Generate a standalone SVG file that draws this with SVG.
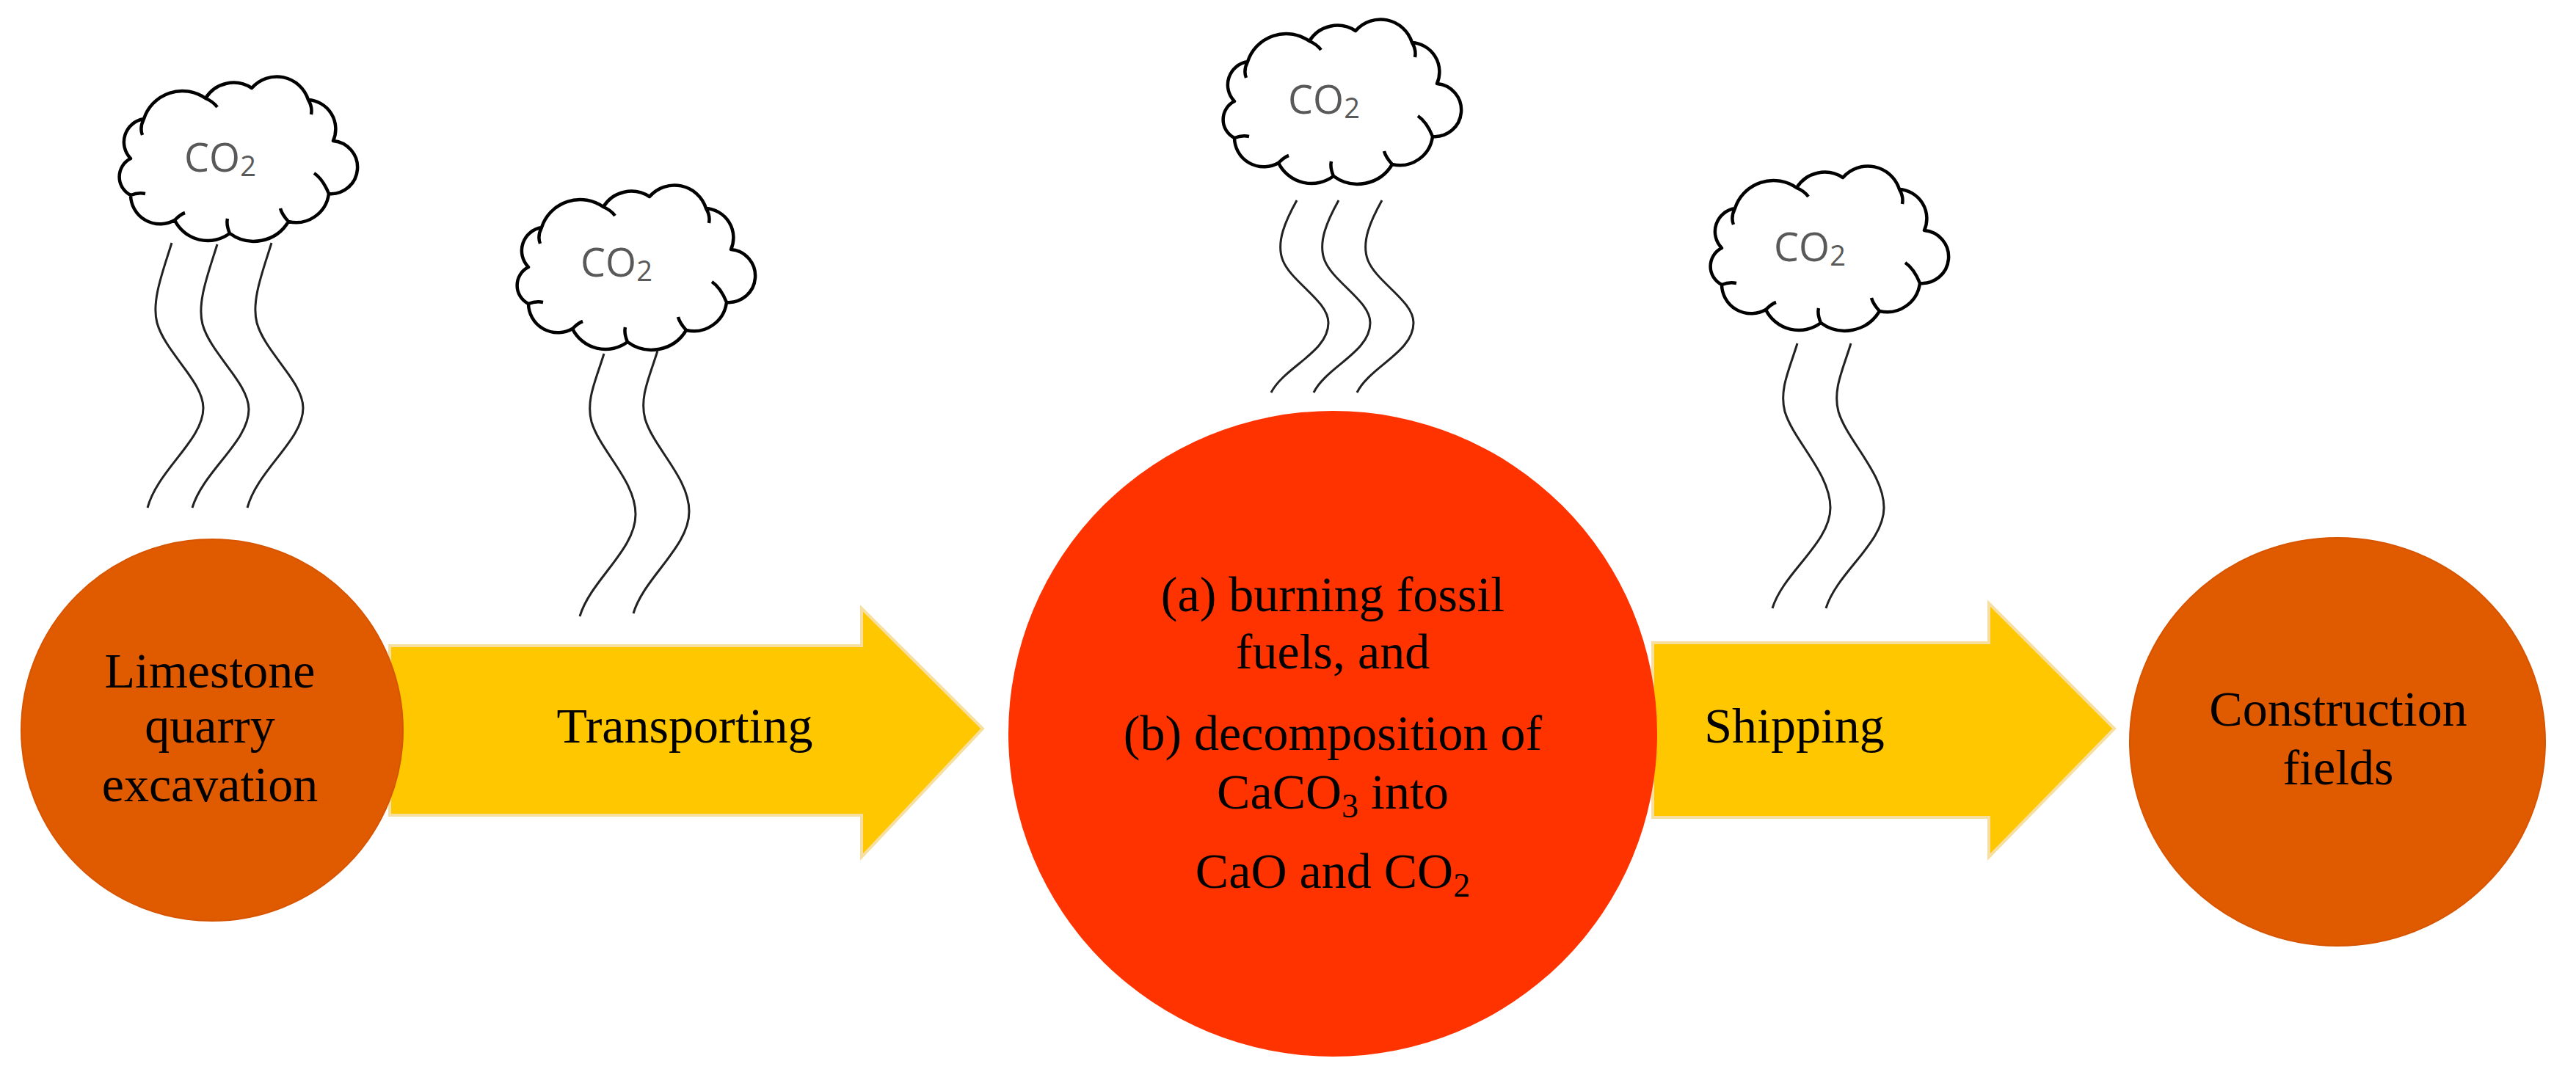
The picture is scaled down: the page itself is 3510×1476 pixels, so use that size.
<svg xmlns="http://www.w3.org/2000/svg" xmlns:xlink="http://www.w3.org/1999/xlink" width="3510" height="1476" viewBox="0 0 3510 1476">
<style>
.lbl{font-family:"Liberation Serif","DejaVu Serif",serif;font-size:68px;fill:#000;text-anchor:middle}
.co2{font-family:"Open Sans","Liberation Sans",sans-serif;font-size:54px;fill:#595959;text-anchor:middle}
.wave{fill:none;stroke:#222;stroke-width:3}
.cloud{fill:#fff;stroke:#000;stroke-width:4.5;stroke-linejoin:round}
.arrow{fill:#FFC700;stroke:#F6DFA0;stroke-width:4}
</style>
<defs>
<path id="cloud" class="cloud" d="M30,112 A32,32 0 0 1 48,58 A55,55 0 0 1 132,30 A45,45 0 0 1 195,16 A45,45 0 0 1 272,32 A40,40 0 0 1 306,88 A36,36 0 0 1 300,160 A45,45 0 0 1 245,198 A55,55 0 0 1 165,214 A50,50 0 0 1 90,196 A40,40 0 0 1 30,162 A28,28 0 0 1 30,112 Z M48,58 Q42,70 46,80 M132,30 Q142,34 148,42 M272,32 Q278,42 276,52 M300,160 Q292,140 280,132 M245,198 Q236,188 234,180 M165,214 Q160,202 162,194 M90,196 Q98,188 104,186 M30,162 Q40,158 50,160"/>
</defs>
<rect width="3510" height="1476" fill="#fff"/>
<g id="connectors">
<g id="arrow1"><polygon class="arrow" points="531,880 1174,880 1174,829 1339,993 1174,1168 1174,1111 531,1111"/>
<text class="lbl" x="933" y="1012">Transporting</text></g>
<g id="arrow2"><polygon class="arrow" points="2252,876 2710,876 2710,822 2881,993 2710,1168 2710,1114 2252,1114"/>
<text class="lbl" x="2445" y="1012">Shipping</text></g>
</g>
<g id="limestone">
<ellipse cx="289" cy="995" rx="260" ry="260" fill="#E05A00" stroke="#D85500" stroke-width="2"/>
<text class="lbl" x="286" y="937">Limestone</text>
<text class="lbl" x="286" y="1012">quarry</text>
<text class="lbl" x="286" y="1092">excavation</text>
</g>
<g id="kiln">
<ellipse cx="1816" cy="1000" rx="442" ry="440" fill="#FF3300"/>
<text class="lbl" x="1816" y="833">(a) burning fossil</text>
<text class="lbl" x="1816" y="911">fuels, and</text>
<text class="lbl" x="1816" y="1022">(b) decomposition of</text>
<text class="lbl" x="1816" y="1102">CaCO<tspan font-size="46" dy="12">3</tspan><tspan dy="-12"> into</tspan></text>
<text class="lbl" x="1816" y="1210">CaO and CO<tspan font-size="46" dy="12">2</tspan></text>
</g>
<g id="construction">
<ellipse cx="3185" cy="1011" rx="283" ry="278" fill="#E05A00" stroke="#D85500" stroke-width="2"/>
<text class="lbl" x="3186" y="989">Construction</text>
<text class="lbl" x="3186" y="1069">fields</text>
</g>
<g id="cloud1">
<use xlink:href="#cloud" href="#cloud" transform="translate(148,104)"/>
<text class="co2" x="300" y="234">CO<tspan font-size="38" dy="6">2</tspan></text>
<path class="wave" d="M234,331 C222,370 206,410 214,440 C225,480 277,520 277,556 C277,600 215,640 201,692"/>
<path class="wave" d="M296,333 C284,372 268,412 276,442 C287,482 339,522 339,558 C339,602 277,642 262,692"/>
<path class="wave" d="M370,331 C358,370 342,410 350,440 C361,480 413,520 413,556 C413,600 351,640 337,692"/>
</g>
<g id="cloud2">
<use xlink:href="#cloud" href="#cloud" transform="translate(690,252)"/>
<text class="co2" x="840" y="377">CO<tspan font-size="38" dy="6">2</tspan></text>
<path class="wave" d="M823,482 C812,518 798,545 806,575 C818,615 866,655 866,701 C866,750 805,790 790,840"/>
<path class="wave" d="M896,478 C885,514 871,541 879,571 C891,611 939,651 939,697 C939,746 878,786 863,836"/>
</g>
<g id="cloud3">
<use xlink:href="#cloud" href="#cloud" transform="translate(1652,26)"/>
<text class="co2" x="1804" y="155">CO<tspan font-size="38" dy="6">2</tspan></text>
<path class="wave" d="M1767,273 C1752,300 1738,330 1748,355 C1760,385 1810,410 1810,440 C1810,480 1750,500 1732,535"/>
<path class="wave" d="M1824,273 C1809,300 1795,330 1805,355 C1817,385 1867,410 1867,440 C1867,480 1807,500 1790,535"/>
<path class="wave" d="M1883,273 C1868,300 1854,330 1864,355 C1876,385 1926,410 1926,440 C1926,480 1866,500 1849,535"/>
</g>
<g id="cloud4">
<use xlink:href="#cloud" href="#cloud" transform="translate(2316,226)"/>
<text class="co2" x="2466" y="356">CO<tspan font-size="38" dy="6">2</tspan></text>
<path class="wave" d="M2449,468 C2438,504 2424,531 2432,561 C2444,601 2494,645 2494,692 C2494,740 2430,780 2415,829"/>
<path class="wave" d="M2522,468 C2511,504 2497,531 2505,561 C2517,601 2567,645 2567,692 C2567,740 2503,780 2488,829"/>
</g>
</svg>
